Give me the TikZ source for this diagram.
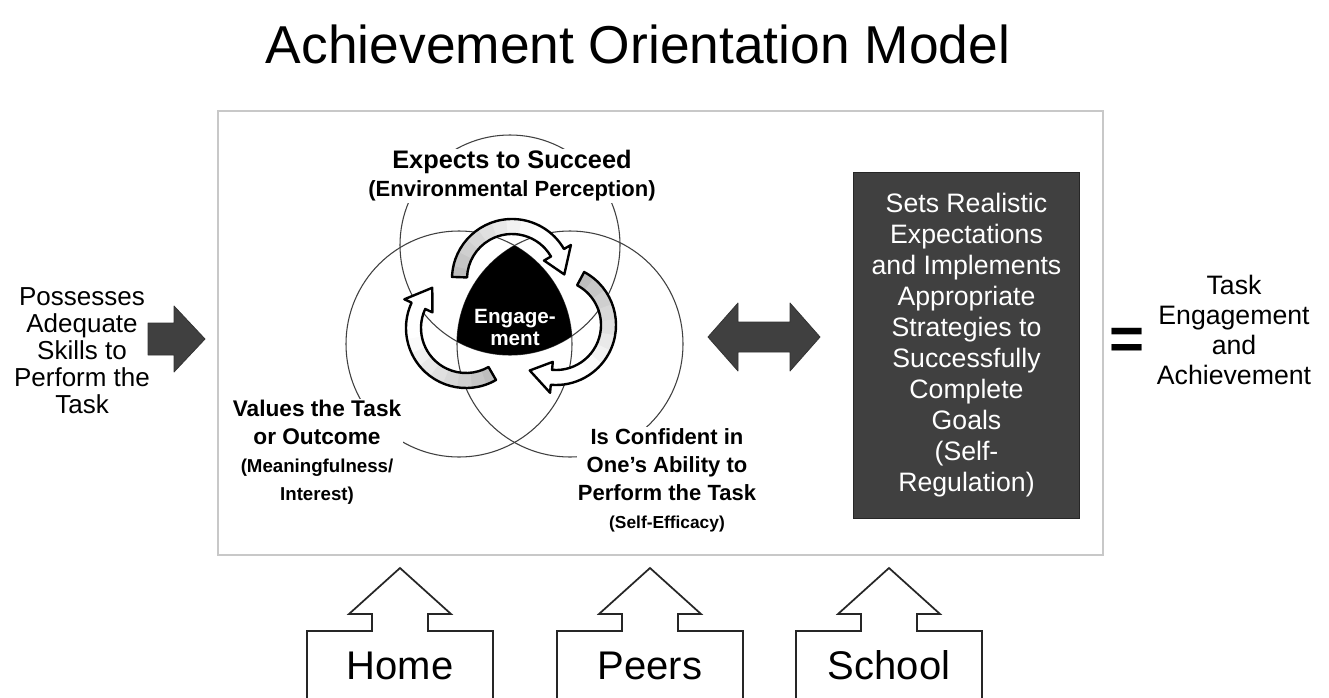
\documentclass[tikz,border=0pt]{standalone}
\usepackage{fontspec}
\setmainfont{Liberation Sans}
\usetikzlibrary{positioning}

\definecolor{darkfill}{HTML}{404040}
\definecolor{frameline}{HTML}{C8C8C8}

% one curved arrow of the engagement cycle:
% centre x, centre y, tail angle, head base angle, tip angle
\newcommand{\engarrow}[5]{%
  \begin{scope}[shift={(#1,#2)}, yscale=-1]
    \begin{scope}
      \clip (#3:60) arc[start angle=#3, end angle=#4, radius=60] -- (#4:68) -- (#5:52.5)
        -- (#4:37) -- (#4:45) arc[start angle=#4, end angle=#3, radius=45] -- cycle;
      % grey at the tail, fading to white towards the head
      \foreach \k in {0,...,11} {
        \pgfmathsetmacro{\angA}{#3+4-\k*(#3-#5)/12}
        \pgfmathsetmacro{\grayA}{max(0,26-3.5*\k)}
        \fill[black!\grayA] (0,0) -- (\angA:90) arc[start angle=\angA, end angle=#5-6, radius=90] -- cycle;
      }
    \end{scope}
    \draw[cyclearrow] (#3:60) arc[start angle=#3, end angle=#4, radius=60] -- (#4:68) -- (#5:52.5)
      -- (#4:37) -- (#4:45) arc[start angle=#4, end angle=#3, radius=45] -- cycle;
  \end{scope}%
}

\begin{document}
\begin{tikzpicture}[
	x=0.75pt, y=-0.75pt, % one unit per pixel, y going down
	venn/.style={draw=black!75, line width=0.8pt},
	venntext/.style={fill=white, inner sep=1pt, align=center},
	blockarrow/.style={fill=darkfill, draw=black!80, line width=0.6pt, line join=round},
	cyclearrow/.style={draw=black, line width=1.8pt, line join=round},
	house/.style={draw=black!85, line width=1.3pt},
	regbox/.style={fill=darkfill, draw=black!85, line width=0.8pt, text=white, align=center,
		minimum width=170pt, minimum height=259pt, inner sep=0pt, font=\fontsize{20}{23.25}\selectfont},
	]
	\useasboundingbox (0,0) rectangle (1329,697);
	\clip (0,0) rectangle (1329,697);
	\fill[white] (0,0) rectangle (1329,697);

	\node[anchor=base, font=\fontsize{40}{48}\selectfont] (title) at (638,63) {Achievement Orientation Model};

	% frame round the model
	\draw[frameline, line width=1pt] (218,111) rectangle (1103,555);

	% input side
	\node[align=center, font=\fontsize{19.5}{20.25}\selectfont] (skills) at (82,351)
		{Possesses\\Adequate\\Skills to\\Perform the\\Task};
	\filldraw[blockarrow] (148,323) -- (174,323) -- (174,306) -- (205,339) -- (174,372)
		-- (174,355) -- (148,355) -- cycle;

	% three overlapping circles
	\coordinate (ctop) at (510,245);
	\coordinate (cleft) at (459,344);
	\coordinate (cright) at (570,344);
	\draw[venn] (ctop) circle[radius=110];
	\draw[venn] (cleft) circle[radius=113];
	\draw[venn] (cright) circle[radius=113];
	\begin{scope}
		\clip (cleft) circle[radius=113];
		\clip (cright) circle[radius=113];
		\fill (ctop) circle[radius=110];
	\end{scope}

	% engagement cycle
	\engarrow{512}{279}{178}{30}{5}
	\engarrow{556}{325}{62}{-95}{-120}
	\engarrow{466}{328}{-60}{-205}{-230}
	\node[text=white, align=center, font=\bfseries\fontsize{15.5}{16.5}\selectfont] (engage) at (515,327) {Engage-\\ment};

	\node[venntext, font=\bfseries\fontsize{16.5}{21}\selectfont] (expects) at (512,176)
		{{\fontsize{19}{21}\selectfont Expects to Succeed}\\(Environmental Perception)};
	\node[venntext, font=\bfseries\fontsize{17}{21}\selectfont] (values) at (317,452)
		{Values the Task\\or Outcome\\{\fontsize{14}{21}\selectfont (Meaningfulness/}\\{\fontsize{14}{21}\selectfont Interest)}};
	\node[venntext, font=\bfseries\fontsize{16.5}{21}\selectfont] (confident) at (667,480)
		{Is Confident in\\One’s Ability to\\Perform the Task\\{\fontsize{13}{21}\selectfont (Self-Efficacy)}};

	\filldraw[blockarrow] (708,337) -- (738,303) -- (738,322) -- (790,322) -- (790,303) -- (820,337)
		-- (790,371) -- (790,352) -- (738,352) -- (738,371) -- cycle;

	\node[regbox] (regulation) at (966.5,345.5) {Sets Realistic\\Expectations\\and Implements\\Appropriate\\Strategies to\\Successfully\\Complete\\Goals\\(Self-\\Regulation)};

	% result
	\node[font=\bfseries\fontsize{45}{45}\selectfont] (equals) at (1127,344) {=};
	\node[align=center, font=\fontsize{20}{22.5}\selectfont] (outcome) at (1234,330)
		{Task\\Engagement\\and\\Achievement};

	% influences from below
	\foreach \name/\cx in {Home/400, Peers/650, School/889} {
		\draw[house] (\cx-93,710) -- (\cx-93,631) -- (\cx-28,631) -- (\cx-28,614) -- (\cx-51,614)
			-- (\cx,568) -- (\cx+51,614) -- (\cx+28,614) -- (\cx+28,631) -- (\cx+93,631) -- (\cx+93,710);
		\node[anchor=base, font=\fontsize{30}{36}\selectfont] (\name) at (\cx,679) {\name};
	}
\end{tikzpicture}
\end{document}
